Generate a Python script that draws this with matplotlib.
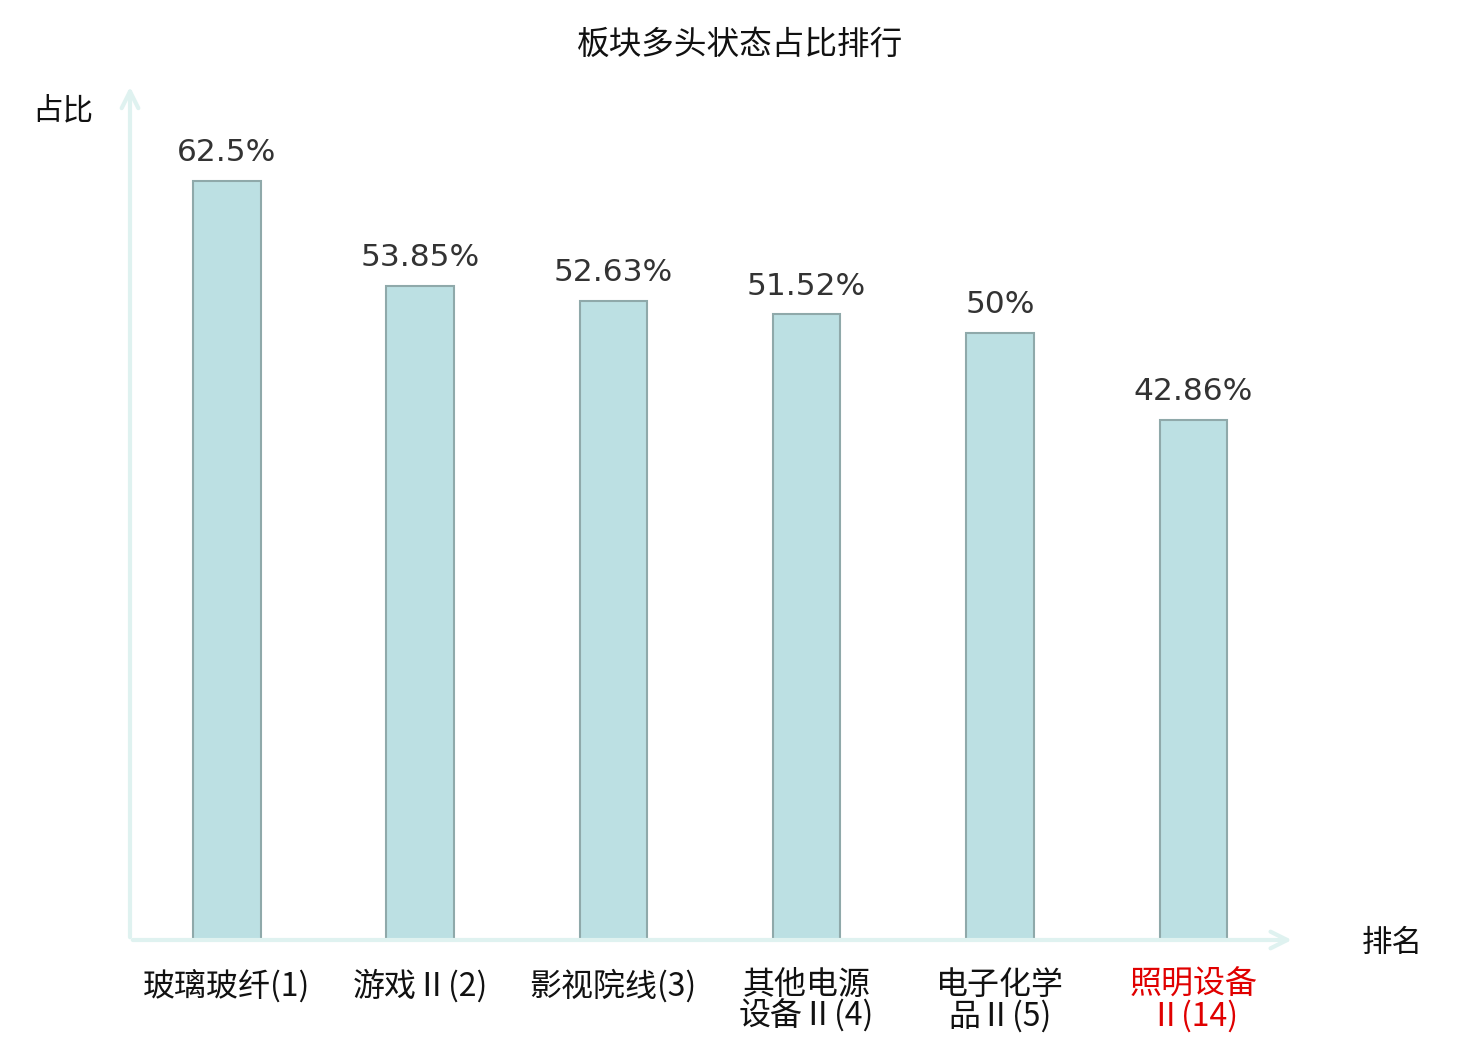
import matplotlib
matplotlib.use("Agg")
import matplotlib.pyplot as plt

CJK = ["Noto Sans CJK SC", "DejaVu Sans"]

categories = ["玻璃玻纤(1)", "游戏Ⅱ(2)", "影视院线(3)", "其他电源\n设备Ⅱ(4)",
              "电子化学\n品Ⅱ(5)", "照明设备\nⅡ(14)"]
values = [62.5, 53.85, 52.63, 51.52, 50.0, 42.86]
value_labels = ["62.5%", "53.85%", "52.63%", "51.52%", "50%", "42.86%"]
highlight = "照明设备\nⅡ(14)"

AXIS_COLOR = "#dff2f0"
BAR_COLOR = "#bce0e3"
BAR_EDGE = "#8fa9aa"

fig = plt.figure(figsize=(14.8, 10.4), dpi=100)
ax = fig.add_axes([130 / 1480, 100 / 1040, 1160 / 1480, 850 / 1040])

x = list(range(len(categories)))
ax.bar(x, values, width=0.35, color=BAR_COLOR, edgecolor=BAR_EDGE, linewidth=1.5, zorder=2)
for xi, v, lab in zip(x, values, value_labels):
    ax.annotate(lab, (xi, v), xytext=(0, 10), textcoords="offset points",
                ha="center", va="bottom", fontsize=22.5, color="#333333",
                family="DejaVu Sans")

ax.set_xlim(-0.5, 5.5)
ax.set_ylim(0, 70)
for s in ax.spines.values():
    s.set_visible(False)
ax.set_yticks([])
ax.set_xticks(x)
ax.set_xticklabels(categories, fontsize=23, family=CJK, linespacing=0.95)
ax.tick_params(axis="x", length=0, pad=21)
for t in ax.get_xticklabels():
    t.set_color("#e00000" if t.get_text() == highlight else "#111111")

# axis arrows
arrow = dict(arrowstyle="->,head_length=1.2,head_width=0.6", color=AXIS_COLOR, lw=3)
ax.annotate("", xy=(1.004, 0), xytext=(0, 0), xycoords="axes fraction", arrowprops=arrow,
            annotation_clip=False)
ax.annotate("", xy=(0, 1.007), xytext=(0, 0), xycoords="axes fraction", arrowprops=arrow,
            annotation_clip=False)

fig.text(740 / 1480, 1 - 45 / 1040, "板块多头状态占比排行", ha="center", va="center",
         fontsize=23.5, family=CJK, color="#111111")
fig.text(63 / 1480, 1 - 111 / 1040, "占比", ha="center", va="center",
         fontsize=22, family=CJK, color="#111111")
fig.text(1392 / 1480, 1 - 943 / 1040, "排名", ha="center", va="center",
         fontsize=22, family=CJK, color="#111111")

fig.savefig("out.png", dpi=100)
